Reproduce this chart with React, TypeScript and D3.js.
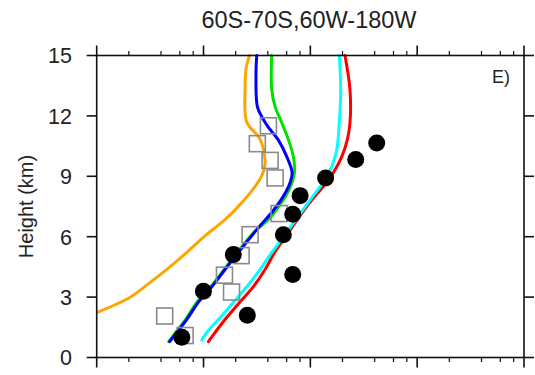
import React from "react";
import * as d3 from "d3";

const title = "60S-70S,60W-180W";
const panelLabel = "E)";
const yLabel = "Height (km)";
const yTicks = [0, 3, 6, 9, 12, 15];
const xMajorTicks = [1, 10, 100, 1000, 10000];
const xMinorMultipliers = [2, 4, 6, 8];

const orangeH = [15.0, 14.33, 13.33, 11.69, 10.85, 9.75, 9.35, 8.86, 7.71, 6.86, 6.02, 5.22, 4.38, 3.73, 2.99, 2.24];
const orangeV = [26.9, 25.0, 24.5, 25.4, 33.8, 37.7, 36.9, 33.8, 23.0, 16.0, 10.2, 6.98, 4.54, 3.16, 2.06, 1.01];

const blueH = [15.0, 14.14, 12.46, 11.96, 11.46, 10.82, 9.98, 9.18, 8.68, 7.99, 7.29, 6.35, 5.21, 4.37, 3.52, 2.73, 1.89, 1.24, 0.79];
const blueV = [31.5, 31.0, 31.9, 35.1, 40.2, 49.9, 60.1, 67.5, 64.6, 55.6, 44.8, 31.5, 21.1, 15.9, 12.0, 8.9, 6.98, 5.62, 4.82];

const greenH = [15.0, 13.3, 12.46, 11.66, 10.82, 9.98, 9.23, 8.44, 7.59, 6.85, 6.3, 5.21, 4.37, 3.52, 2.73, 1.89, 1.24, 0.79];
const greenV = [43.5, 43.5, 46.8, 54.0, 62.3, 69.3, 71.1, 64.6, 52.1, 40.5, 30.7, 20.6, 15.6, 11.7, 8.62, 6.8, 5.48, 4.72];

const cyanH = [15.0, 13.3, 11.66, 10.32, 9.48, 8.83, 7.99, 7.2, 6.0, 5.21, 4.37, 3.52, 2.73, 1.89, 1.24, 0.86];
const cyanV = [186.7, 192.3, 186.7, 176.6, 158.5, 137.3, 105, 81.8, 56.1, 43.5, 33.8, 25.4, 19.0, 13.8, 10.7, 9.64];

const redH = [15.0, 13.3, 11.66, 10.82, 9.98, 9.18, 8.49, 7.84, 7.05, 6.1, 5.26, 4.37, 3.52, 2.73, 1.89, 1.24, 0.79];
const redV = [211, 235, 235, 222, 197, 164, 132, 104, 80.2, 60.5, 46.8, 37.7, 29.3, 21.7, 15.9, 12.8, 11.1];

const dotH = [10.65, 9.83, 8.92, 8.04, 7.12, 6.1, 5.11, 4.12, 3.29, 2.1, 1.01];
const dotV = [418, 266, 139, 80.2, 68.4, 55.9, 19.0, 68.4, 9.98, 25.7, 6.27];

const squareH = [11.51, 10.62, 9.79, 8.92, 7.15, 6.1, 5.06, 4.09, 3.25, 2.06, 1.09];
const squareV = [40.5, 31.9, 42.0, 46.8, 51.0, 27.3, 22.5, 15.7, 18.3, 4.33, 6.73];

const series = [
  { h: orangeH, v: orangeV, color: "#FFA500" },
  { h: greenH, v: greenV, color: "#00E000" },
  { h: blueH, v: blueV, color: "#0000FF" },
  { h: redH, v: redV, color: "#FF0000" },
  { h: cyanH, v: cyanV, color: "#00FFFF" },
];

const W = 535;
const H = 375;
const L = 96.7;
const R = 524;
const T = 55.5;
const B = 357.5;
const FONT = "'Liberation Sans', Arial, Helvetica, sans-serif";

export default function App() {
  const x = d3.scaleLog().domain([1, 10000]).range([L, R]);
  const y = d3.scaleLinear().domain([0, 15]).range([B, T]);
  const line = d3
    .line<[number, number]>()
    .x((d) => x(d[1]))
    .y((d) => y(d[0]))
    .curve(d3.curveCatmullRom.alpha(0.5));

  const minorTicks: number[] = [];
  xMajorTicks.slice(0, -1).forEach((d) => xMinorMultipliers.forEach((m) => minorTicks.push(d * m)));

  const axisColor = "#111";
  const textColor = "#222";

  return (
    <svg width={W} height={H} style={{ position: "absolute", left: 0, top: 0, background: "#fff" }}>
      <defs>
        <clipPath id="plotClip">
          <rect x={L} y={T - 2} width={R - L} height={B - T + 4} />
        </clipPath>
      </defs>
      <text x={309} y={28.3} textAnchor="middle" fontFamily={FONT} fontSize={23.5} fill={textColor}>
        {title}
      </text>

      <g clipPath="url(#plotClip)">
        {series.map((s, i) => (
          <path
            key={i}
            d={line(s.h.map((h, j) => [h, s.v[j]] as [number, number])) || ""}
            fill="none"
            stroke={s.color}
            strokeWidth={3}
            strokeLinejoin="round"
            strokeLinecap="round"
          />
        ))}
        {squareH.map((h, i) => (
          <rect
            key={"s" + i}
            x={x(squareV[i]) - 8}
            y={y(h) - 8}
            width={16}
            height={16}
            fill="none"
            stroke="#8a8a8a"
            strokeWidth={1.6}
          />
        ))}
        {dotH.map((h, i) => (
          <circle key={"d" + i} cx={x(dotV[i])} cy={y(h)} r={8.5} fill="#000" />
        ))}
      </g>

      {/* frame */}
      <rect x={L} y={T} width={R - L} height={B - T} fill="none" stroke={axisColor} strokeWidth={1.6} />

      {/* x ticks top & bottom */}
      {xMajorTicks.map((t, i) => (
        <g key={"xm" + i} stroke={axisColor} strokeWidth={1.6}>
          <line x1={x(t)} x2={x(t)} y1={B} y2={B + 10} />
          <line x1={x(t)} x2={x(t)} y1={T} y2={T - 10} />
        </g>
      ))}
      {minorTicks.map((t, i) => (
        <g key={"xn" + i} stroke={axisColor} strokeWidth={1.2}>
          <line x1={x(t)} x2={x(t)} y1={B} y2={B + 4.5} />
          <line x1={x(t)} x2={x(t)} y1={T} y2={T - 4.5} />
        </g>
      ))}

      {/* y ticks left & right */}
      {yTicks.map((t, i) => (
        <g key={"y" + i}>
          <line x1={L} x2={L - 10} y1={y(t)} y2={y(t)} stroke={axisColor} strokeWidth={1.6} />
          <line x1={R} x2={R + 10} y1={y(t)} y2={y(t)} stroke={axisColor} strokeWidth={1.6} />
          <text
            x={72}
            y={y(t) + 7.8}
            textAnchor="end"
            fontFamily={FONT}
            fontSize={21.5}
            fill={textColor}
          >
            {t}
          </text>
        </g>
      ))}

      <text
        transform={`translate(33,${(B + T) / 2}) rotate(-90)`}
        textAnchor="middle"
        fontFamily={FONT}
        fontSize={20}
        fill={textColor}
      >
        {yLabel}
      </text>

      <text x={510} y={83.3} textAnchor="end" fontFamily={FONT} fontSize={18} fill={textColor}>
        {panelLabel}
      </text>
    </svg>
  );
}
